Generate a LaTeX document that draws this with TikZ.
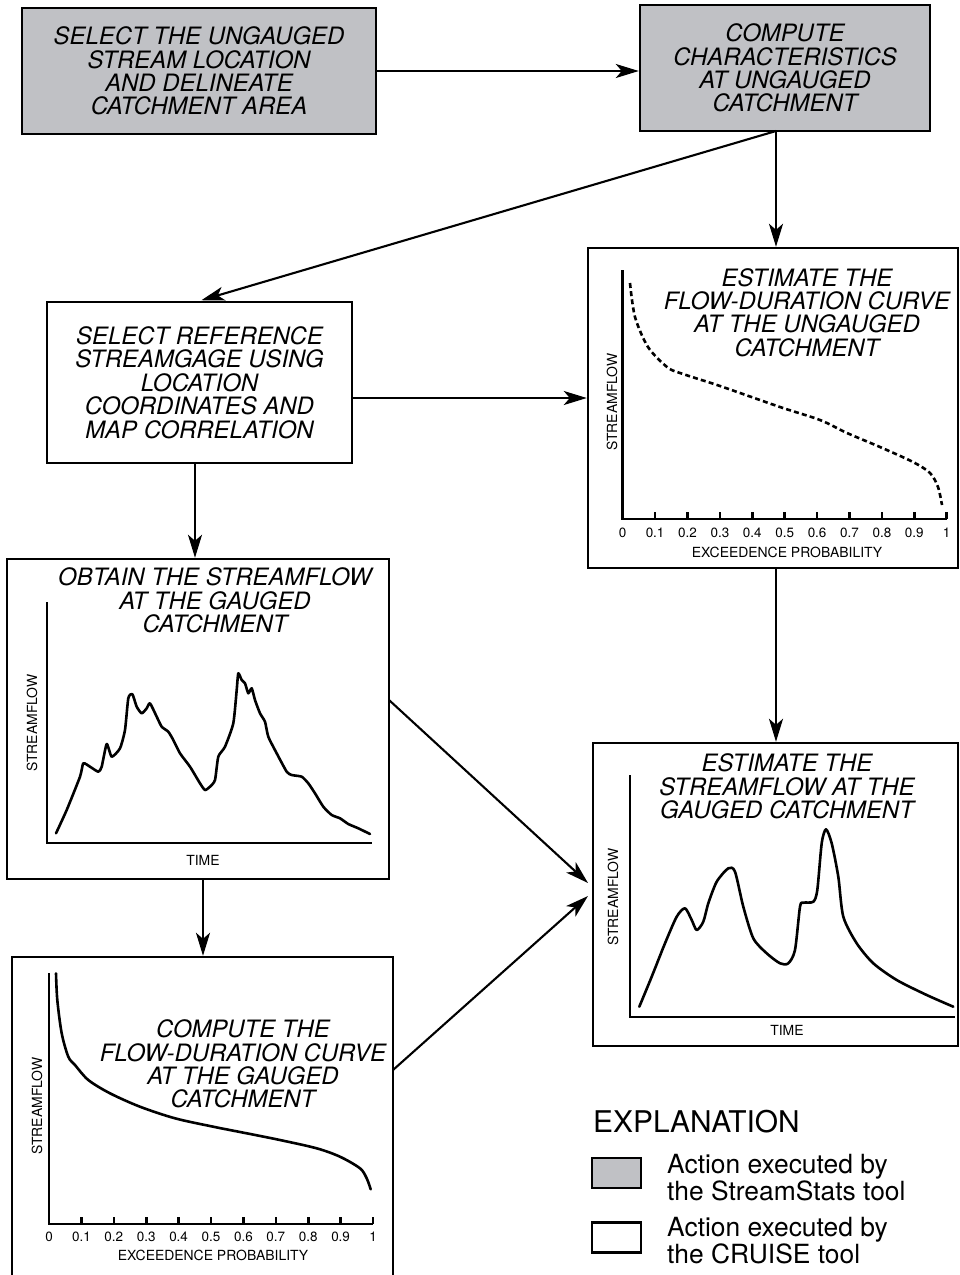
\documentclass[tikz,border=0pt]{standalone}
\usepackage{fontspec}
\setmainfont{TeX Gyre Heros}
\usetikzlibrary{arrows.meta}
\definecolor{boxgray}{RGB}{192,193,197}
\newcommand{\ttlfont}{\itshape\fontsize{24}{23.5}\selectfont}
\newcommand{\axfont}{\fontsize{14}{14}\selectfont}
\newcommand{\tkfont}{\fontsize{13.5}{13.5}\selectfont}
\tikzset{
  box/.style={draw=black, line width=2.4bp, rectangle, inner sep=0pt, align=center, font=\ttlfont},
  ttl/.style={align=center, font=\ttlfont, inner sep=0pt},
  axis/.style={line width=2.6bp, line cap=butt},
  curve/.style={line width=2.6bp, line join=round, line cap=round},
  axlab/.style={font=\axfont, inner sep=0pt},
  ticklab/.style={font=\tkfont, inner sep=0pt},
  arr/.style={line width=2.1bp, -{Stealth[length=23bp,width=14bp,inset=6bp]}},
  swatch/.style={draw=black, line width=2.4bp, rectangle, inner sep=0pt, minimum width=49bp, minimum height=30bp},
  legtext/.style={font=\fontsize{26.5}{25}\selectfont, align=left, anchor=west, inner sep=0pt},
}
\begin{document}
\begin{tikzpicture}[x=1bp,y=-1bp]
\useasboundingbox (0,0) rectangle (960,1275);
\fill[white] (0,0) rectangle (960,1275);

% ---- boxes ----
\node[box, fill=boxgray, minimum width=354bp, minimum height=126bp] (B1) at (199,71)
  {SELECT THE UNGAUGED\\STREAM LOCATION\\AND DELINEATE\\CATCHMENT AREA};
\node[box, fill=boxgray, minimum width=290bp, minimum height=126bp] (B2) at (785,68)
  {COMPUTE\\CHARACTERISTICS\\AT UNGAUGED\\CATCHMENT};
\node[box, minimum width=305bp, minimum height=161bp] (B3) at (199.5,382.5)
  {SELECT REFERENCE\\STREAMGAGE USING\\LOCATION\\COORDINATES AND\\MAP CORRELATION};
\node[box, minimum width=370bp, minimum height=320bp] (FDCU) at (773,408) {};
\node[box, minimum width=382bp, minimum height=320bp] (OBT) at (198,719) {};
\node[box, minimum width=381bp, minimum height=333bp] (FDCG) at (202.5,1123.5) {};
\node[box, minimum width=365bp, minimum height=303bp] (EST) at (775.5,894.5) {};

% ---- FDC at ungauged ----
\node[ttl] (tFDCU) at (807,312.5) {ESTIMATE THE\\FLOW-DURATION CURVE\\AT THE UNGAUGED\\CATCHMENT};
\draw[axis] (622.7,270) -- (622.7,519) -- (946.7,519);
\foreach \i in {1,...,10} \draw[axis] (622.7+\i*32.4,519) -- ++(0,-7);
\foreach \l [count=\i from 0] in {0,0.1,0.2,0.3,0.4,0.5,0.6,0.7,0.8,0.9,1}
  \node[ticklab] (u\i) at (622.7+\i*32.4,533) {\l};
\node[axlab] (xu) at (787,552) {EXCEEDENCE PROBABILITY};
\node[axlab, rotate=90] (yu) at (612,402) {STREAMFLOW};
\draw[curve, dash pattern=on 5bp off 3.2bp, line cap=butt] plot[smooth, tension=0.5] coordinates {
 (630,283) (635,317) (648,347) (667,367) (680,373) (720,386) (780,407) (820,420)
 (847,433) (880,447) (913,462) (930,473) (938,487) (942,505)};

% ---- Obtain streamflow ----
\node[ttl] (tOBT) at (215,600.5) {OBTAIN THE STREAMFLOW\\AT THE GAUGED\\CATCHMENT};
\draw[axis] (47,602) -- (47,843) -- (372,843);
\node[axlab] (xo) at (203,860) {TIME};
\node[axlab, rotate=90] (yo) at (32,723) {STREAMFLOW};
\draw[curve] plot[smooth, tension=0.35] coordinates {
 (56.0,833.3) (66.7,810) (80,776.7) (83.3,763.3) (90,766.7) (98.3,771.7) (101.7,766.7)
 (106.7,744) (111.7,756.7) (120,748.3) (125,730) (128.3,698.3) (132.3,694) (136.7,706.7)
 (141.7,713.3) (146.7,708.3) (150,703.3) (156.7,716.7) (161.7,726.7) (168.3,731.7)
 (173.3,740) (180,753.3) (190,766.7) (200,783.3) (205,790) (210,786.7) (215,780)
 (218.3,756.7) (225,746.7) (233.3,723.3) (236.7,690) (238.3,673.3) (241.7,680) (245,683.3)
 (248.3,693.3) (251.7,688.3) (255,700) (260,713.3) (265,721.7) (268.3,736.7) (276.7,753.3)
 (286.7,771.7) (291.7,775) (301.7,776.7) (308.3,783.3) (315,793.3) (323.3,806.7)
 (331.7,815) (340,818.3) (348.3,824) (358.3,828.3) (370,834)};

% ---- FDC at gauged ----
\node[ttl] (tFDCG) at (243,1064) {COMPUTE THE\\FLOW-DURATION CURVE\\AT THE GAUGED\\CATCHMENT};
\draw[axis] (49,973) -- (49,1224) -- (373,1224);
\foreach \i in {1,...,10} \draw[axis] (49+\i*32.4,1224) -- ++(0,-7);
\foreach \l [count=\i from 0] in {0,0.1,0.2,0.3,0.4,0.5,0.6,0.7,0.8,0.9,1}
  \node[ticklab] (g\i) at (49+\i*32.4,1237) {\l};
\node[axlab] (xg) at (213,1255) {EXCEEDENCE PROBABILITY};
\node[axlab, rotate=90] (yg) at (37,1106) {STREAMFLOW};
\draw[curve] plot[smooth, tension=0.5] coordinates {
 (56,973.3) (57.3,1000) (61.7,1033.3) (68.3,1056.7) (75,1065) (88.3,1080) (110,1093.3)
 (140,1106.7) (175,1118.3) (213.3,1126.7) (246.7,1133.3) (280,1140) (316.7,1148.3)
 (340,1156.7) (360,1168.3) (366.7,1178.3) (370.7,1189.3)};

% ---- Estimate streamflow ----
\node[ttl] (tEST) at (787,786.5) {ESTIMATE THE\\STREAMFLOW AT THE\\GAUGED CATCHMENT};
\draw[axis] (630,775) -- (630,1017) -- (955,1017);
\node[axlab] (xe) at (787,1030) {TIME};
\node[axlab, rotate=90] (ye) at (613,897) {STREAMFLOW};
\draw[curve] plot[smooth, tension=0.45] coordinates {
 (639.3,1006.7) (651.7,976.7) (665,943.3) (676.7,916.7) (685,908.3) (691.7,920) (696.7,930)
 (703.3,921.7) (708.3,903.3) (716.7,881.7) (728.3,868.3) (735,871.7) (743.3,906.7)
 (753.3,938.3) (766.7,953.3) (780,963.3) (788.3,963.3) (795,950) (800,906.7) (803.3,902.7)
 (813.3,901.7) (817.3,890) (821.7,843.3) (826,829.3) (831.7,843.3) (838.3,876.7)
 (843.3,916.7) (856.7,943.3) (873.3,963.3) (896.7,980) (926.7,995) (953.3,1006.7)};

% ---- connectors ----
\coordinate (s2) at (776,131);
\coordinate (c4) at (352,398);
\coordinate (c5) at (195,463);
\coordinate (c6) at (776,568);
\coordinate (c7) at (389,700);
\coordinate (e7) at (588,883);
\coordinate (c8) at (203,879);
\coordinate (c9) at (393,1070);
\coordinate (e9) at (588,896);
\draw[arr] (B1.east) -- (B1.east -| B2.west);
\draw[arr] (s2) -- (s2 |- FDCU.north);
\draw[arr, shorten >=2bp] (s2) -- (B3.north);
\draw[arr] (c4) -- (c4 -| FDCU.west);
\draw[arr] (c5) -- (c5 |- OBT.north);
\draw[arr] (c6) -- (c6 |- EST.north);
\draw[arr] (c7) -- (e7);
\draw[arr] (c8) -- (c8 |- FDCG.north);
\draw[arr] (c9) -- (e9);

% ---- legend ----
\node[anchor=west, inner sep=0pt, font=\fontsize{30}{30}\selectfont] (expl) at (593,1122) {EXPLANATION};
\node[swatch, fill=boxgray] (sw1) at (616.5,1173) {};
\node[swatch] (sw2) at (616.5,1237.5) {};
\node[legtext] (l1) at (667,1177.5) {Action executed by\\the StreamStats tool};
\node[legtext] (l2) at (667,1240.5) {Action executed by\\the CRUISE tool};
\end{tikzpicture}
\end{document}
